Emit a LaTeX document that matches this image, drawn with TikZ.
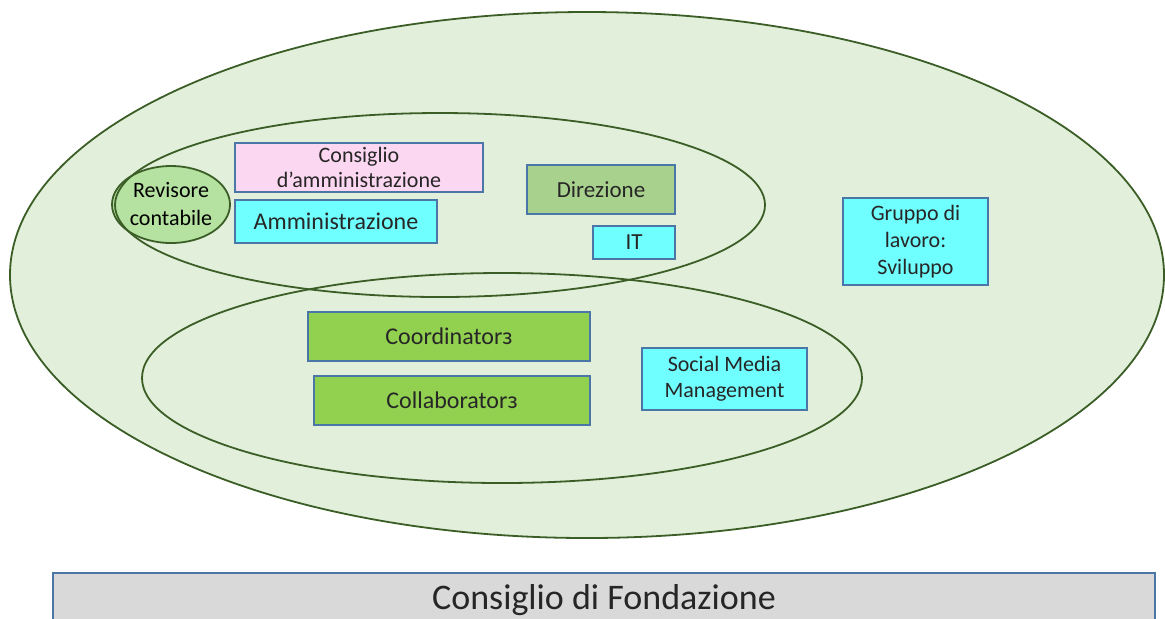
\documentclass[tikz,border=0pt]{standalone}
\usepackage{fontspec}
\setmainfont{Carlito}
\usetikzlibrary{shapes.geometric}
\definecolor{sfondo}{HTML}{E2EFDA}
\definecolor{bordoverde}{HTML}{3B5E27}
\definecolor{bordoblu}{HTML}{4A77A8}
\definecolor{testo}{HTML}{262626}
\definecolor{verdino}{HTML}{B5E2A0}
\definecolor{rosa}{HTML}{FCD7F2}
\definecolor{ciano}{HTML}{70FFFF}
\definecolor{verdesalvia}{HTML}{A9D18E}
\definecolor{verdeprato}{HTML}{92D050}
\definecolor{grigio}{HTML}{D9D9D9}
\begin{document}
\begin{tikzpicture}[x=0.5pt, y=-0.5pt,
    cerchio/.style={ellipse, draw=bordoverde, line width=0.9pt, inner sep=0pt},
    scatola/.style={rectangle, draw=bordoblu, line width=1pt, text=testo, align=center,
      inner sep=0pt, font=\fontsize{11.5}{13}\selectfont}]
    \useasboundingbox (0,0) rectangle (1165,618);
    \clip (0,0) rectangle (1165,618);

    % ellissi
    \node[cerchio, fill=sfondo, minimum width=577pt, minimum height=263pt] (fondazione) at (587,275) {};
    \node[cerchio, fill=verdino, minimum width=59pt, minimum height=38.5pt, text=black,
      align=center, font=\fontsize{11}{14}\selectfont] (revisore) at (171,204.5) {Revisore\\contabile};
    \node[cerchio, minimum width=325pt, minimum height=92pt] (direttivo) at (440,205) {};
    \node[cerchio, minimum width=360pt, minimum height=105pt] (operativo) at (502,378) {};

    % riquadri
    \node[scatola, fill=rosa, minimum width=124pt, minimum height=24.5pt,
      font=\fontsize{11}{12.5}\selectfont] (cda) at (359,167.5) {Consiglio\\d’amministrazione};
    \node[scatola, fill=ciano, minimum width=101pt, minimum height=21.5pt,
      font=\fontsize{12}{13}\selectfont] (amministrazione) at (336,221.5) {Amministrazione};
    \node[scatola, fill=verdesalvia, minimum width=74pt, minimum height=24.5pt] (direzione) at (601,189.5) {Direzione};
    \node[scatola, fill=ciano, minimum width=41pt, minimum height=16.5pt] (it) at (634,242.5) {IT};
    \node[scatola, fill=ciano, minimum width=72.5pt, minimum height=43.5pt,
      font=\fontsize{11}{13.5}\selectfont] (gruppo) at (915.5,241.5) {Gruppo di\\lavoro:\\Sviluppo};
    \node[scatola, fill=verdeprato, minimum width=141pt, minimum height=24.5pt,
      font=\fontsize{12}{13}\selectfont] (coordinatori) at (449,336.5) {Coordinatorз};
    \node[scatola, fill=verdeprato, minimum width=138pt, minimum height=24.5pt,
      font=\fontsize{12}{13}\selectfont] (collaboratori) at (452,400.5) {Collaboratorз};
    \node[scatola, fill=ciano, minimum width=82.5pt, minimum height=31pt,
      font=\fontsize{11}{13}\selectfont] (social) at (724.5,379) {Social Media\\Management};

    % consiglio di fondazione
    \node[scatola, fill=grigio, minimum width=551pt, minimum height=27pt,
      font=\fontsize{18}{20}\selectfont] (cdf) at (604,600) {Consiglio di Fondazione};
\end{tikzpicture}
\end{document}
